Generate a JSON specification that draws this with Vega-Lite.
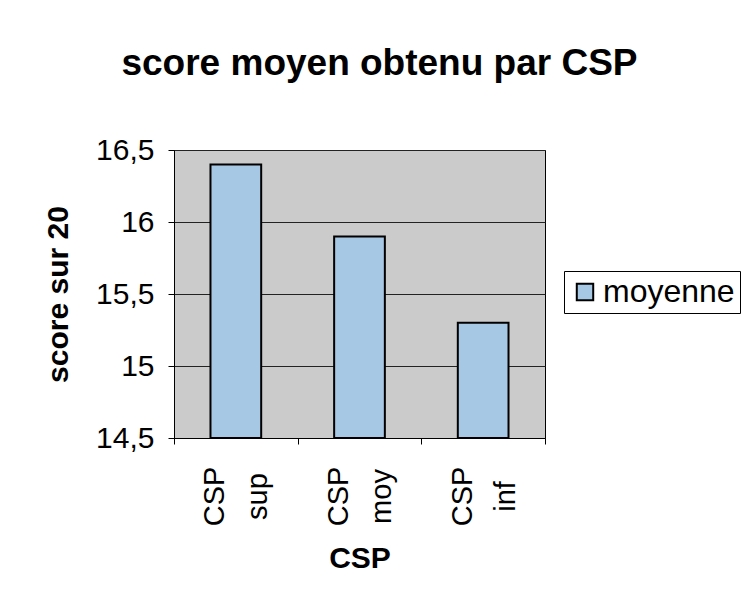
{
  "$schema": "https://vega.github.io/schema/vega-lite/v6.json",
  "autosize": {"type": "none"},
  "width": 371,
  "height": 288,
  "padding": {"left": 174, "top": 150, "right": 197, "bottom": 165},
  "background": "white",
  "title": {
    "text": "score moyen obtenu par CSP",
    "font": "Liberation Sans",
    "fontSize": 37,
    "fontWeight": "bold",
    "color": "black",
    "anchor": "middle",
    "dx": 20,
    "offset": 52
  },
  "data": {
    "values": [
      {"CSP": "CSP sup", "score": 16.4, "serie": "moyenne"},
      {"CSP": "CSP moy", "score": 15.9, "serie": "moyenne"},
      {"CSP": "CSP inf", "score": 15.3, "serie": "moyenne"}
    ]
  },
  "mark": {"type": "bar", "width": {"band": 0.41}, "stroke": "black", "strokeWidth": 2},
  "encoding": {
    "x": {
      "field": "CSP",
      "type": "nominal",
      "sort": ["CSP sup", "CSP moy", "CSP inf"],
      "scale": {"paddingInner": 0, "paddingOuter": 0},
      "axis": {
        "title": "CSP",
        "titleFont": "Liberation Sans",
        "titleFontSize": 30,
        "titleFontWeight": "bold",
        "titleColor": "black",
        "titlePadding": 18,
        "labelFont": "Liberation Sans",
        "labelFontSize": 29,
        "labelColor": "black",
        "labelAngle": -90,
        "labelAlign": "center",
        "labelBaseline": "middle",
        "labelLineHeight": 43,
        "labelPadding": 52,
        "labelOffset": -21,
        "labelExpr": "split(datum.label, ' ')",
        "tickBand": "extent",
        "tickSize": 6,
        "tickColor": "black",
        "domainColor": "black",
        "grid": false
      }
    },
    "y": {
      "field": "score",
      "type": "quantitative",
      "scale": {"domain": [14.5, 16.5], "zero": false, "nice": false},
      "axis": {
        "title": "score sur 20",
        "titleFont": "Liberation Sans",
        "titleFontSize": 30,
        "titleFontWeight": "bold",
        "titleColor": "black",
        "titlePadding": 22,
        "values": [14.5, 15, 15.5, 16, 16.5],
        "labelExpr": "replace(format(datum.value, '~g'), '.', ',')",
        "labelFont": "Liberation Sans",
        "labelFontSize": 30,
        "labelColor": "black",
        "labelPadding": 14,
        "tickSize": 6,
        "tickColor": "black",
        "domainColor": "black",
        "grid": true,
        "gridColor": "#222222",
        "gridWidth": 1
      }
    },
    "y2": {"datum": 14.5},
    "color": {
      "field": "serie",
      "type": "nominal",
      "scale": {"range": ["#a6c8e4"]},
      "legend": {
        "title": null,
        "orient": "none",
        "legendX": 390,
        "legendY": 121,
        "fillColor": "white",
        "strokeColor": "black",
        "padding": 5,
        "symbolType": "square",
        "symbolSize": 270,
        "symbolStrokeColor": "black",
        "symbolStrokeWidth": 2,
        "symbolOpacity": 1,
        "labelFont": "Liberation Sans",
        "labelFontSize": 32,
        "labelColor": "black",
        "labelOffset": 2
      }
    }
  },
  "config": {
    "view": {"fill": "#cbcbcb", "stroke": "black", "strokeWidth": 1}
  }
}
